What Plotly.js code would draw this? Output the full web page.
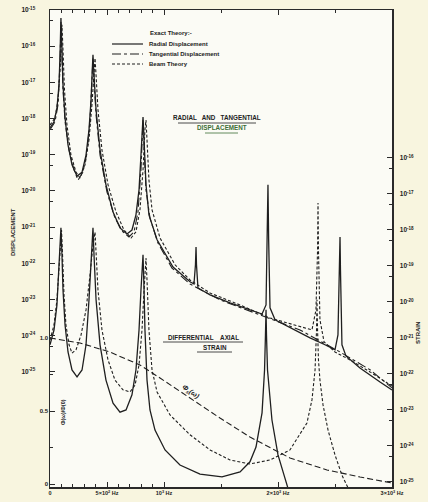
<!DOCTYPE html>
<html>
<head>
<meta charset="utf-8">
<script src="https://cdn.plot.ly/plotly-3.0.1.min.js"></script>
<style>html,body{margin:0;padding:0;background:#f8f5df;}#chart{width:428px;height:502px;}</style>
</head>
<body>
<div id="chart"></div>
<script>
// ---- Displacement (left log axis), frequency in Hz, value as log10 ----
const radialHz = [0,35,61,79,88,96,105,114,132,158,193,237,281,316,342,360,371,377,386,404,439,491,553,614,675,719,754,781,798,810,816,825,842,868,939,1079,1228,1263,1276,1281,1285,1298,1404,1579,1754,1860,1895,1906,1912,1918,1930,1974,2105,2281,2412,2500,2526,2539,2544,2548,2561,2596,2719,2895,3000];
const radialLog10 = [-18.26,-18.09,-17.71,-17.07,-16.24,-15.22,-16.10,-17.07,-17.98,-18.73,-19.28,-19.59,-19.48,-19.01,-18.31,-17.49,-16.66,-16.24,-16.80,-17.76,-18.87,-19.83,-20.58,-21.02,-21.19,-21.08,-20.66,-19.97,-19.01,-18.18,-17.96,-18.59,-19.83,-20.66,-21.35,-22.10,-22.51,-22.57,-22.04,-21.55,-22.04,-22.68,-22.87,-23.09,-23.29,-23.40,-23.15,-21.35,-19.83,-21.35,-23.23,-23.56,-23.78,-24.06,-24.25,-24.39,-23.98,-22.18,-21.27,-22.18,-24.25,-24.56,-24.89,-25.28,-25.50];

const tangentialHz = [0,44,70,88,96,105,114,132,167,211,246,289,325,351,368,377,386,404,439,500,570,640,693,737,772,798,812,816,825,842,877,947,1070,1228,1491,1842,2193,2544,2807,3000];
const tangentialLog10 = [-18.31,-18.09,-17.62,-16.44,-15.33,-16.24,-17.21,-18.09,-18.87,-19.42,-19.70,-19.48,-18.92,-18.04,-17.07,-16.33,-16.93,-17.90,-19.01,-20.03,-20.75,-21.13,-21.27,-21.13,-20.58,-19.42,-18.31,-18.04,-18.73,-19.97,-20.75,-21.44,-22.13,-22.57,-23.01,-23.43,-23.84,-24.45,-24.94,-25.44];

const beamHz = [0,44,70,88,101,105,114,127,149,184,228,263,307,342,368,386,395,404,421,456,509,579,649,711,754,789,816,833,842,851,868,895,965,1097,1228,1404,1667,1930,2193,2298,2333,2347,2351,2355,2368,2404,2500,2632,2807,3000];
const beamLog10 = [-18.18,-17.98,-17.49,-16.66,-15.69,-15.41,-16.10,-17.21,-18.18,-19.01,-19.48,-19.64,-19.28,-18.59,-17.62,-16.66,-16.33,-16.80,-17.76,-18.87,-19.83,-20.58,-21.08,-21.30,-21.13,-20.52,-19.42,-18.31,-18.04,-18.59,-19.70,-20.52,-21.30,-22.04,-22.46,-22.82,-23.15,-23.51,-23.76,-23.84,-23.29,-21.63,-20.33,-21.63,-23.56,-24.17,-24.45,-24.67,-25.00,-25.39];

// ---- Differential axial strain (right log axis) ----
const strainExactHz = [0,35,61,79,92,96,105,114,132,158,193,237,281,316,342,360,373,377,386,404,439,491,553,614,667,719,754,781,798,812,816,825,833,851,877,921,1009,1140,1316,1509,1667,1754,1807,1860,1882,1890,1895,1899,1908,1947,2000,2053,2088,2105];
const strainExactLog10 = [-21.19,-20.78,-20.08,-19.11,-18.28,-17.94,-18.69,-19.67,-20.64,-21.39,-21.89,-22.08,-21.89,-21.19,-19.94,-18.97,-18.14,-17.94,-18.69,-19.94,-21.19,-22.17,-22.81,-23.06,-23.00,-22.58,-21.89,-20.78,-19.67,-18.89,-18.69,-19.67,-20.78,-22.17,-23.00,-23.56,-24.11,-24.53,-24.78,-24.86,-24.72,-24.44,-24.03,-23.08,-21.89,-20.92,-20.22,-20.92,-21.89,-23.28,-24.25,-24.81,-25.14,-25.36];

const strainBeamHz = [0,35,61,79,92,101,110,123,140,167,193,228,272,316,351,377,395,404,421,456,509,570,640,702,746,781,807,825,838,842,851,868,895,939,1053,1228,1404,1579,1754,1930,2105,2254,2298,2325,2338,2342,2347,2355,2368,2395,2439,2500,2561,2614,2632];
const strainBeamLog10 = [-21.06,-20.64,-19.94,-19.06,-18.28,-18.00,-18.69,-19.81,-20.64,-21.19,-21.42,-21.33,-20.92,-20.22,-19.25,-18.42,-18.06,-18.56,-19.67,-20.78,-21.61,-22.17,-22.44,-22.50,-22.31,-21.75,-20.78,-19.67,-18.89,-18.78,-19.39,-20.78,-21.89,-22.50,-23.14,-23.69,-24.11,-24.39,-24.50,-24.39,-24.11,-23.36,-22.72,-21.89,-20.78,-19.94,-20.78,-21.61,-22.17,-22.86,-23.56,-24.25,-24.81,-25.14,-25.28];

// ---- Phi(omega)/Phi(0), linear scale ----
const phiHz = [0,263,526,789,965,1228,1491,1754,2105,2430,2719,3000];
const phiRatio = [1.00,0.966,0.904,0.815,0.726,0.589,0.452,0.322,0.178,0.096,0.048,0.007];

// ---- Tick labels ----
const xTickVals = [0,500,1000,2000,3000];
const xTickText = ['0','5×10<sup>2</sup> Hz','10<sup>3</sup> Hz','2×10<sup>3</sup> Hz','3×10<sup>3</sup> Hz'];
const dispExps = [-15,-16,-17,-18,-19,-20,-21,-22,-23,-24,-25];
const strainExps = [-16,-17,-18,-19,-20,-21,-22,-23,-24,-25];
const phiTickVals = [0,0.5,1.0];
const phiTickText = ['0','0.5','1.0'];

const pow10 = a => a.map(e => Math.pow(10, e));
const ink = '#1f1f1f';
const F = 'Liberation Sans, Arial, sans-serif';

const traces = [
  {x: radialHz, y: pow10(radialLog10), yaxis:'y', mode:'lines', line:{color:ink, width:1.3}},
  {x: tangentialHz, y: pow10(tangentialLog10), yaxis:'y', mode:'lines', line:{color:ink, width:1.1, dash:'dashdot'}},
  {x: beamHz, y: pow10(beamLog10), yaxis:'y', mode:'lines', line:{color:ink, width:1.1, dash:'3px,2px'}},
  {x: strainExactHz, y: pow10(strainExactLog10), yaxis:'y2', mode:'lines', line:{color:ink, width:1.3}},
  {x: strainBeamHz, y: pow10(strainBeamLog10), yaxis:'y2', mode:'lines', line:{color:ink, width:1.1, dash:'3px,2px'}},
  {x: phiHz, y: phiRatio, yaxis:'y3', mode:'lines', line:{color:ink, width:1.1, dash:'6px,3px'}}
];

const sup = e => '<b>10<sup>' + e + '</sup></b>';
const tickFont = {family:F, size:6.5, color:'#222'};

const px2x = p => (p - 50) / 342;
const py2y = p => (487 - p) / 477;

function lineShape(x0,x1,y,dash,w,c){return {type:'line', xref:'paper', yref:'paper', x0:px2x(x0), x1:px2x(x1), y0:py2y(y), y1:py2y(y), line:{color:c||ink, width:w||1, dash:dash||'solid'}};}
function txt(t,xp,yp,opts){return Object.assign({text:t, xref:'paper', yref:'paper', x:px2x(xp), y:py2y(yp), yanchor:'middle', showarrow:false, font:{family:F, size:6, color:'#222'}}, opts||{});}

const layout = {
  width:428, height:502,
  margin:{l:50, r:36, t:10, b:15},
  paper_bgcolor:'#f8f5df', plot_bgcolor:'#fbfbf5',
  showlegend:false,
  xaxis:{range:[0,3000], showline:true, linecolor:'#2a2a2a', linewidth:1.5, mirror:'ticks',
    ticks:'inside', ticklen:5, tickcolor:'#2a2a2a', tickmode:'array', tickvals:xTickVals, ticktext:xTickText.map(t=>'<b>'+t+'</b>'),
    tickfont:{family:F, size:5.5, color:'#222'}, showgrid:false, zeroline:false,
    minor:{tickmode:'array', tickvals:[100,200,300,400,600,700,800,900,1500,2500], ticks:'inside', ticklen:3, tickcolor:'#2a2a2a', showgrid:false}},
  yaxis:{type:'log', range:[-28.18,-15], showline:true, linecolor:'#2a2a2a', linewidth:1.5,
    ticks:'inside', ticklen:5, tickcolor:'#2a2a2a', tickmode:'array', tickvals:pow10(dispExps), ticktext:dispExps.map(sup),
    tickfont:tickFont, ticklabelstandoff:12, showgrid:false, zeroline:false,
    minor:{tickmode:'array', tickvals:pow10(dispExps.slice(1).map(e=>e+Math.log10(5))), ticks:'inside', ticklen:3, tickcolor:'#2a2a2a', showgrid:false}},
  yaxis2:{type:'log', range:[-25.14,-11.89], overlaying:'y', side:'right', showline:true, linecolor:'#2a2a2a', linewidth:1.5,
    ticks:'inside', ticklen:5, tickcolor:'#2a2a2a', tickmode:'array', tickvals:pow10(strainExps), ticktext:strainExps.map(sup),
    tickfont:tickFont, ticklabelstandoff:5, showgrid:false, zeroline:false,
    minor:{tickmode:'array', tickvals:pow10(strainExps.slice(1).map(e=>e+Math.log10(5))), ticks:'inside', ticklen:3, tickcolor:'#2a2a2a', showgrid:false}},
  yaxis3:{range:[-0.0205,3.247], overlaying:'y', side:'left', showline:false,
    ticks:'inside', ticklen:5, tickcolor:'#2a2a2a', tickmode:'array', tickvals:phiTickVals, ticktext:phiTickText.map(t=>'<b>'+t+'</b>'),
    tickfont:{family:F, size:6, color:'#222'}, ticklabelstandoff:1, showgrid:false, zeroline:false,
    minor:{tickmode:'array', tickvals:[0.25,0.75], ticks:'inside', ticklen:3, tickcolor:'#2a2a2a', showgrid:false}},
  shapes:[
    lineShape(112,143,44,'solid',1.2),
    lineShape(112,143,54,'dashdot',1.1),
    lineShape(112,143,64,'3px,2px',1.1),
    lineShape(178,256,123,'solid',0.8),
    lineShape(205,238,133,'solid',0.8,'#3d6e36'),
    lineShape(163,243,342,'solid',0.8),
    lineShape(197,232,352,'solid',0.8)
  ],
  annotations:[
    txt('<b>Exact Theory:-</b>',148,33,{xanchor:'left'}),
    txt('<b>Radial Displacement</b>',147,44,{xanchor:'left'}),
    txt('<b>Tangential Displacement</b>',147,54,{xanchor:'left'}),
    txt('<b>Beam Theory</b>',147,64,{xanchor:'left'}),
    txt('<b>RADIAL   AND   TANGENTIAL</b>',217,118,{font:{family:F, size:6.3, color:'#222'}}),
    txt('<b>DISPLACEMENT</b>',222,128,{font:{family:F, size:6.3, color:'#3d6e36'}}),
    txt('<b>DIFFERENTIAL    AXIAL</b>',203,337,{font:{family:F, size:6.3, color:'#222'}}),
    txt('<b>STRAIN</b>',215,347,{font:{family:F, size:6.3, color:'#222'}}),
    txt('<b><i>Φ<sub>s</sub>(ω)</i></b>',191,392,{textangle:35, font:{family:F, size:7, color:'#222'}}),
    txt('<b>Φ(ω)/Φ(0)</b>',58,412,{textangle:-90, font:{family:F, size:5.5, color:'#222'}}),
    txt('<b>DISPLACEMENT</b>',8,232,{textangle:-90, font:{family:F, size:6, color:'#222'}}),
    txt('<b>STRAIN</b>',423,333,{textangle:-90, font:{family:F, size:6, color:'#222'}})
  ]
};

Plotly.newPlot('chart', traces, layout, {staticPlot:true, displayModeBar:false});
</script>
</body>
</html>
